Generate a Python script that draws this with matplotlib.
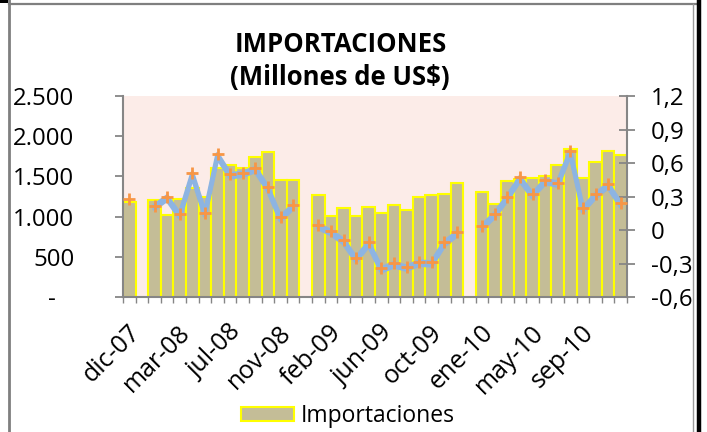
import matplotlib
matplotlib.use('Agg')
import matplotlib.pyplot as plt
import numpy as np
from matplotlib import transforms
from matplotlib.lines import Line2D
from matplotlib.patches import Patch, Rectangle

plt.rcParams['font.family'] = ['Open Sans', 'DejaVu Sans']

# ---------------- data ----------------
categories = ['dic-07', '',
              'ene-08', 'feb-08', 'mar-08', 'abr-08', 'may-08', 'jun-08',
              'jul-08', 'ago-08', 'sep-08', 'oct-08', 'nov-08', 'dic-08', '',
              'ene-09', 'feb-09', 'mar-09', 'abr-09', 'may-09', 'jun-09',
              'jul-09', 'ago-09', 'sep-09', 'oct-09', 'nov-09', 'dic-09', '',
              'ene-10', 'feb-10', 'mar-10', 'abr-10', 'may-10', 'jun-10',
              'jul-10', 'ago-10', 'sep-10', 'oct-10', 'nov-10', 'dic-10']

importaciones = [1180, np.nan,
                 1212, 1025, 1220, 1350, 1245, 1600, 1640, 1610, 1740, 1800, 1450, 1450, np.nan,
                 1270, 1011, 1111, 1004, 1115, 1041, 1148, 1082, 1248, 1269, 1277, 1422, np.nan,
                 1302, 1157, 1443, 1470, 1476, 1505, 1638, 1845, 1484, 1675, 1812, 1764]

variacion = [0.275, np.nan,
             0.218, 0.299, 0.140, 0.508, 0.155, 0.678, 0.499, 0.513, 0.555, 0.382, 0.114, 0.224, np.nan,
             0.045, -0.009, -0.090, -0.253, -0.110, -0.343, -0.298, -0.328, -0.284, -0.290, -0.110, -0.020, np.nan,
             0.036, 0.147, 0.299, 0.472, 0.320, 0.448, 0.424, 0.707, 0.194, 0.320, 0.412, 0.239]

left_ticks = [0, 500, 1000, 1500, 2000, 2500]
left_labels = ['-   ', '500', '1.000', '1.500', '2.000', '2.500']
right_ticks = [-0.6, -0.3, 0, 0.3, 0.6, 0.9, 1.2]
right_labels = ['-0,6', '-0,3', '0', '0,3', '0,6', '0,9', '1,2']

title1 = 'IMPORTACIONES'
title2 = '(Millones de US$)'
legend_label = 'Importaciones'

# ---------------- figure ----------------
W, H = 707, 432
fig = plt.figure(figsize=(W / 100, H / 100), dpi=100)
fig.patch.set_facecolor('white')

def fx(px):
    return px / W

def fy(py):
    return 1 - py / H

ax_l, ax_r, ax_t, ax_b = 123, 627, 96, 297
ax = fig.add_axes([fx(ax_l), fy(ax_b), (ax_r - ax_l) / W, (ax_b - ax_t) / H])
ax.set_facecolor('#FCECE8')

x = np.arange(len(categories))
ax.bar(x, importaciones, width=1.0, color='#C4BD97', edgecolor='#FFFF00',
       linewidth=1.5, zorder=2)
ax.set_xlim(-0.5, len(categories) - 0.5)
ax.set_ylim(0, 2500)

gray = '#868686'

ax.set_yticks(left_ticks)
ax.set_yticklabels(left_labels)
ax.tick_params(axis='y', direction='out', length=6, width=1.3, color=gray,
               pad=29, labelsize=17.3)

ax.set_xticks(np.arange(-0.5, len(categories), 1.0))
ax.set_xticklabels([])
ax.tick_params(axis='x', which='major', direction='out', length=4, width=1.0, color=gray)
lab_idx = list(range(0, len(categories), 4))
ax.set_xticks(lab_idx, minor=True)
ax.set_xticklabels([categories[i] for i in lab_idx], minor=True, rotation=45,
                   ha='right', va='center', rotation_mode='anchor', fontsize=18)
ax.tick_params(axis='x', which='minor', length=0, pad=23)
for lbl in ax.get_xticklabels(minor=True):
    lbl.set_transform(lbl.get_transform() + transforms.ScaledTranslation(7 / 100, 0, fig.dpi_scale_trans))

for s in ['top', 'right']:
    ax.spines[s].set_visible(False)
for s in ['left', 'bottom']:
    ax.spines[s].set_color(gray)
    ax.spines[s].set_linewidth(1.5)

ax2 = ax.twinx()
ax2.set_ylim(-0.6, 1.2)
ax2.set_yticks(right_ticks)
ax2.set_yticklabels(right_labels)
ax2.tick_params(axis='y', direction='inout', length=12, width=1.3, color=gray,
                pad=11, labelsize=17.3)
for s in ['top', 'left', 'bottom']:
    ax2.spines[s].set_visible(False)
ax2.spines['right'].set_color(gray)
ax2.spines['right'].set_linewidth(1.5)

blue = '#8DB4E2'
off = ax2.transData + transforms.ScaledTranslation(0, -3 / 100, fig.dpi_scale_trans)
ax2.plot(x, variacion, color=blue, lw=3.2, solid_joinstyle='round',
         solid_capstyle='round', transform=off, zorder=3)
ax2.plot(x, variacion, color=blue, lw=3.2, solid_joinstyle='round',
         solid_capstyle='round', zorder=3)
ax2.plot(x, variacion, ls='none', marker='+', ms=8.5, mew=2.0, color='#F79646', zorder=4)

# titles
fig.text(fx(341), fy(44), title1, ha='center', va='center', fontsize=18.5,
         fontweight='bold')
fig.text(fx(340), fy(77), title2, ha='center', va='center', fontsize=18.5,
         fontweight='bold')

# legend
handle = Patch(facecolor='#C4BD97', edgecolor='#FFFF00', linewidth=1.5)
fig.legend([handle], [legend_label], loc='center', bbox_to_anchor=(fx(348), fy(416)),
           frameon=False, fontsize=16.5, handlelength=2.3, handleheight=0.55,
           handletextpad=0.3)

# outer frame lines (chart border)
fig.add_artist(Line2D([fx(9), fx(9)], [fy(0), fy(432)], color='#7F7F7F', lw=2.0))
fig.add_artist(Line2D([fx(9), fx(696)], [fy(4), fy(4)], color='#7F7F7F', lw=1.6))
fig.add_artist(Line2D([fx(693), fx(693)], [fy(4), fy(432)], color='#9A9A9A', lw=1.0))
fig.add_artist(Line2D([fx(698.5), fx(698.5)], [fy(0), fy(432)], color='black', lw=3.2))
fig.add_artist(Rectangle((0, fy(3)), fx(8), 3 / H, transform=fig.transFigure,
                         color='black', lw=0))

fig.savefig('out.png', dpi=100, facecolor='white')
